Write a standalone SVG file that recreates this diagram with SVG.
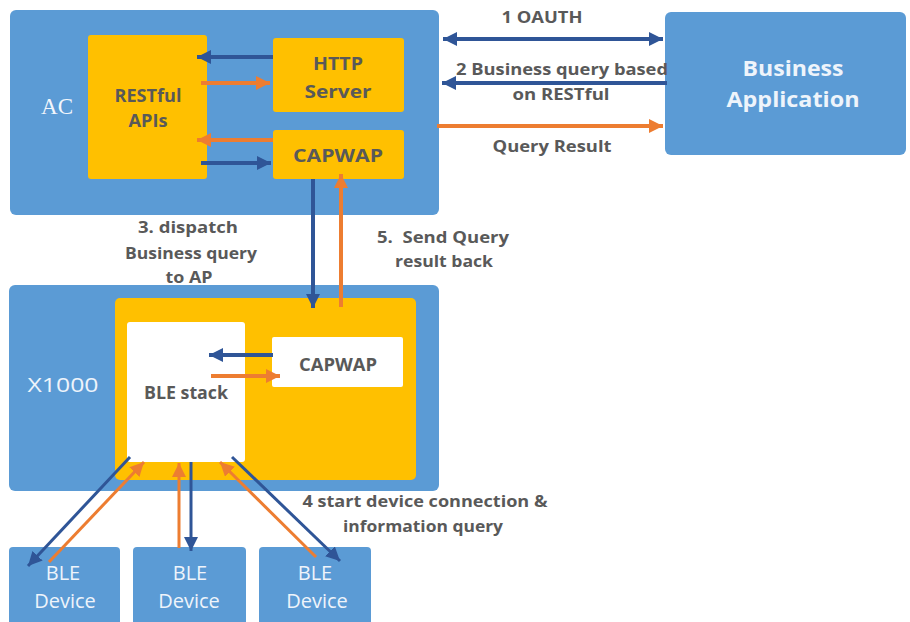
<svg xmlns="http://www.w3.org/2000/svg" width="910" height="622" viewBox="0 0 910 622">
  <defs>
    <marker id="ab" markerUnits="userSpaceOnUse" markerWidth="16" markerHeight="16" refX="14" refY="7" orient="auto-start-reverse">
      <path d="M0,0 L14,7 L0,14 z" fill="#2f5597"/>
    </marker>
    <marker id="ao" markerUnits="userSpaceOnUse" markerWidth="16" markerHeight="16" refX="14" refY="7" orient="auto-start-reverse">
      <path d="M0,0 L14,7 L0,14 z" fill="#ed7d31"/>
    </marker>
    <style>
      .blue { fill: #5b9bd5; }
      .yel { fill: #ffc000; }
      .wht { fill: #ffffff; }
      .lb { stroke: #2f5597; stroke-width: 4; fill: none; marker-end: url(#ab); }
      .lo { stroke: #ed7d31; stroke-width: 4; fill: none; marker-end: url(#ao); }
      .d { stroke-width: 3; }
      .lbl { font-family: "Open Sans", "Liberation Sans", sans-serif; font-weight: 700; font-size: 16px; fill: #595959; text-anchor: middle; white-space: pre; }
      .in { font-family: "Open Sans", "Liberation Sans", sans-serif; font-weight: 700; font-size: 17px; fill: #595959; text-anchor: middle; }
      .wt { font-family: "Open Sans", "Liberation Sans", sans-serif; font-size: 20px; fill: #eef4fb; text-anchor: middle; }
      .wb { font-family: "Open Sans", "Liberation Sans", sans-serif; font-weight: 700; font-size: 22px; fill: #eef4fb; text-anchor: middle; }
      .sf { font-family: "Liberation Serif", "DejaVu Serif", serif; font-size: 24px; fill: #f2f6fc; text-anchor: middle; }
    </style>
  </defs>

  <g id="ac">
    <rect class="blue" x="10" y="10" width="429" height="205" rx="6"/>
    <text class="sf" x="57" y="114" textLength="32" lengthAdjust="spacingAndGlyphs">AC</text>
  </g>
  <g id="restful-apis">
    <rect class="yel" x="88" y="35" width="119" height="144" rx="3"/>
    <text class="in" x="148" y="102" textLength="67" lengthAdjust="spacingAndGlyphs">RESTful</text>
    <text class="in" x="148" y="127" textLength="39" lengthAdjust="spacingAndGlyphs">APIs</text>
  </g>
  <g id="http-server">
    <rect class="yel" x="273" y="38" width="131" height="74" rx="3"/>
    <text class="in" x="338" y="70" font-size="19" textLength="50" lengthAdjust="spacingAndGlyphs">HTTP</text>
    <text class="in" x="338" y="98" font-size="19" textLength="67" lengthAdjust="spacingAndGlyphs">Server</text>
  </g>
  <g id="capwap-ac">
    <rect class="yel" x="273" y="130" width="131" height="49" rx="3"/>
    <text class="in" x="338" y="162" font-size="18" textLength="90" lengthAdjust="spacingAndGlyphs">CAPWAP</text>
  </g>
  <g id="business-application">
    <rect class="blue" x="665" y="12" width="241" height="143" rx="6"/>
    <text class="wb" x="793" y="76" textLength="101" lengthAdjust="spacingAndGlyphs">Business</text>
    <text class="wb" x="793" y="107" textLength="133" lengthAdjust="spacingAndGlyphs">Application</text>
  </g>

  <g id="x1000">
    <rect class="blue" x="9" y="285" width="430" height="206" rx="6"/>
    <text class="wt" x="63" y="392" font-size="23" textLength="71" lengthAdjust="spacingAndGlyphs">X1000</text>
  </g>
  <g id="ap-inner">
    <rect class="yel" x="115" y="298" width="301" height="182" rx="5"/>
  </g>
  <g id="ble-stack">
    <rect class="wht" x="127" y="322" width="118" height="140" rx="3"/>
    <text class="in" x="186" y="399" textLength="84" lengthAdjust="spacingAndGlyphs">BLE stack</text>
  </g>
  <g id="capwap-ap">
    <rect class="wht" x="272" y="337" width="131" height="50" rx="2"/>
    <text class="in" x="338" y="371" font-size="16" textLength="78" lengthAdjust="spacingAndGlyphs">CAPWAP</text>
  </g>

  <g id="ble-device-1">
    <rect class="blue" x="9" y="547" width="111" height="90" rx="4"/>
    <text class="wt" x="63" y="580">BLE</text>
    <text class="wt" x="65" y="608">Device</text>
  </g>
  <g id="ble-device-2">
    <rect class="blue" x="133" y="547" width="113" height="90" rx="4"/>
    <text class="wt" x="190" y="580">BLE</text>
    <text class="wt" x="189" y="608">Device</text>
  </g>
  <g id="ble-device-3">
    <rect class="blue" x="259" y="547" width="112" height="90" rx="4"/>
    <text class="wt" x="315" y="580">BLE</text>
    <text class="wt" x="317" y="608">Device</text>
  </g>

  <g id="connectors">
    <line class="lb" x1="273" y1="57" x2="197" y2="57"/>
    <line class="lo" x1="201" y1="83" x2="270" y2="83"/>
    <line class="lo" x1="273" y1="140" x2="197" y2="140"/>
    <line class="lb" x1="201" y1="163" x2="271" y2="163"/>
    <line class="lb" x1="443" y1="39" x2="663" y2="39" style="marker-start:url(#ab)"/>
    <line class="lb" x1="667" y1="83" x2="442" y2="83"/>
    <line class="lo" x1="437" y1="126" x2="663" y2="126"/>
    <line class="lb" x1="313" y1="179" x2="313" y2="308"/>
    <line class="lo" x1="341" y1="307" x2="341" y2="174"/>
    <line class="lb" x1="273" y1="355" x2="209" y2="355"/>
    <line class="lo" x1="211" y1="376" x2="280" y2="376"/>
    <line class="lb d" x1="130" y1="457" x2="28" y2="566"/>
    <line class="lo d" x1="49" y1="562" x2="144" y2="462"/>
    <line class="lo d" x1="179" y1="548" x2="179" y2="463"/>
    <line class="lb d" x1="191" y1="462" x2="191" y2="551"/>
    <line class="lo d" x1="316" y1="557" x2="220" y2="462"/>
    <line class="lb d" x1="232" y1="457" x2="340" y2="561"/>
  </g>

  <g id="labels">
    <text class="lbl" x="542" y="23" textLength="81" lengthAdjust="spacingAndGlyphs">1 OAUTH</text>
    <text class="lbl" x="562" y="75" textLength="212" lengthAdjust="spacingAndGlyphs">2 Business query based</text>
    <text class="lbl" x="561" y="100" textLength="97" lengthAdjust="spacingAndGlyphs">on RESTful</text>
    <text class="lbl" x="552" y="152" textLength="119" lengthAdjust="spacingAndGlyphs">Query Result</text>
    <text class="lbl" x="188" y="233" textLength="100" lengthAdjust="spacingAndGlyphs">3. dispatch</text>
    <text class="lbl" x="191" y="259" textLength="132" lengthAdjust="spacingAndGlyphs">Business query</text>
    <text class="lbl" x="189" y="283" textLength="47" lengthAdjust="spacingAndGlyphs">to AP</text>
    <text class="lbl" x="443" y="243" textLength="132" lengthAdjust="spacingAndGlyphs">5.  Send Query</text>
    <text class="lbl" x="444" y="267" textLength="98" lengthAdjust="spacingAndGlyphs">result back</text>
    <text class="lbl" x="425" y="507" textLength="245" lengthAdjust="spacingAndGlyphs">4 start device connection &amp;</text>
    <text class="lbl" x="423" y="532" textLength="160" lengthAdjust="spacingAndGlyphs">information query</text>
  </g>
</svg>
